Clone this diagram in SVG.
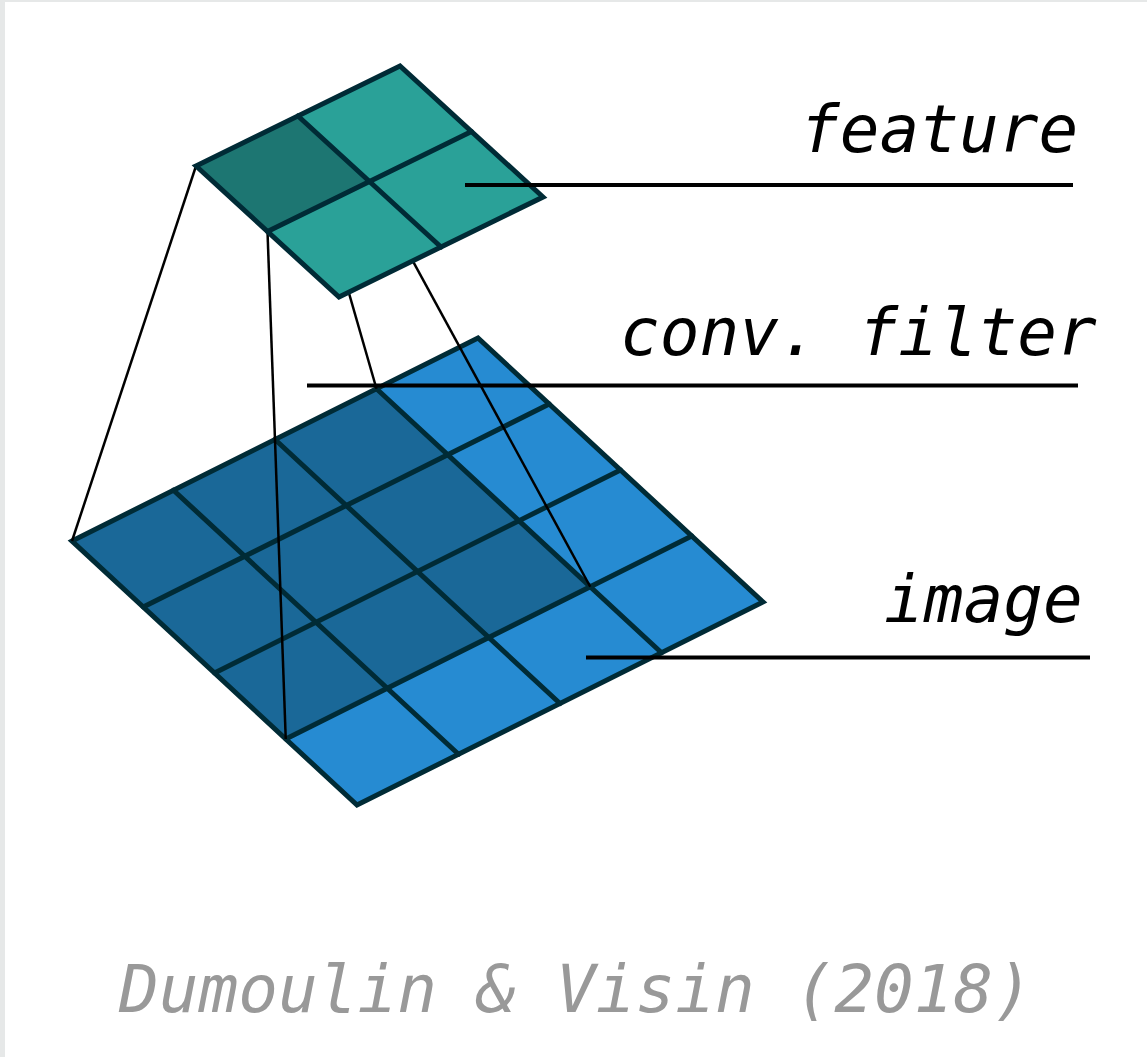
<svg xmlns="http://www.w3.org/2000/svg" width="1147" height="1057" viewBox="0 0 1147 1057">
<style>
.grid{stroke:#002b36;stroke-width:5;stroke-linejoin:miter;stroke-linecap:round;fill:none}
.blue{fill:#268bd2}
.dblue{fill:#1a6898}
.teal{fill:#2aa198}
.dteal{fill:#1d7672}
.proj{stroke:#000;stroke-width:2.5;fill:none}
.lead{stroke:#000;stroke-width:4;fill:none}
.lbl{font-family:"DejaVu Sans Mono","Liberation Mono",monospace;font-style:italic;font-size:66px;fill:#000}
.credit{font-family:"DejaVu Sans Mono","Liberation Mono",monospace;font-style:italic;font-size:66px;fill:#999}
</style>
<rect x="0" y="0" width="1147" height="1057" fill="#fff"/>
<rect x="0" y="0" width="5" height="1057" fill="#e6e8e8"/>
<rect x="0" y="0" width="1147" height="2" fill="#e6e8e8"/>
<g id="image">
<polygon class="blue" points="72,541 478,338 763,602 357,805"/>
<polygon class="dblue" points="72,541 376.5,388.75 590.25,586.75 285.75,739"/>
<g class="grid">
<polygon points="72,541 478,338 763,602 357,805"/>
<line x1="173.5" y1="490.25" x2="458.5" y2="754.25"/>
<line x1="275" y1="439.5" x2="560" y2="703.5"/>
<line x1="376.5" y1="388.75" x2="661.5" y2="652.75"/>
<line x1="143.25" y1="607" x2="549.25" y2="404"/>
<line x1="214.5" y1="673" x2="620.5" y2="470"/>
<line x1="285.75" y1="739" x2="691.75" y2="536"/>
</g>
</g>
<g id="connectors" class="proj">
<line x1="196" y1="166" x2="72" y2="541"/>
<line x1="267.5" y1="231.5" x2="285.75" y2="739"/>
<line x1="298" y1="116" x2="376.5" y2="388.75"/>
<line x1="369.5" y1="181.5" x2="590.25" y2="586.75"/>
</g>
<g id="feature">
<polygon class="teal" points="196,166 400,66 543,197 339,297"/>
<polygon class="dteal" points="196,166 298,116 369.5,181.5 267.5,231.5"/>
<g class="grid">
<polygon points="196,166 400,66 543,197 339,297"/>
<line x1="298" y1="116" x2="441" y2="247"/>
<line x1="267.5" y1="231.5" x2="471.5" y2="131.5"/>
</g>
</g>
<g id="label-feature">
<line class="lead" x1="465" y1="185" x2="1073" y2="185"/>
<text class="lbl" x="800" y="152">feature</text>
</g>
<g id="label-filter">
<line class="lead" x1="307" y1="385.5" x2="1078" y2="385.5"/>
<text class="lbl" x="620" y="355">conv. filter</text>
</g>
<g id="label-image">
<line class="lead" x1="586" y1="657.5" x2="1090" y2="657.5"/>
<text class="lbl" x="884" y="622">image</text>
</g>
<text id="credit" class="credit" x="119" y="1012">Dumoulin &amp; Visin (2018)</text>
</svg>
